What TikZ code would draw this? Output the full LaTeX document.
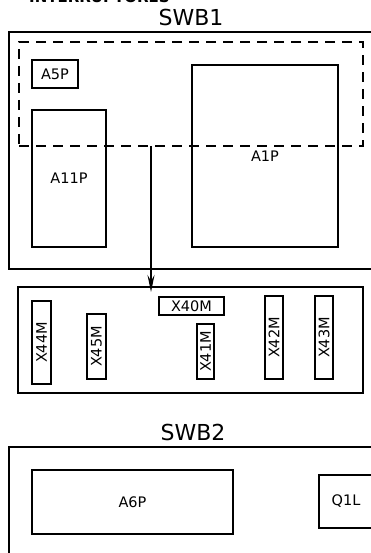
\documentclass[tikz,border=0pt]{standalone}
\usepackage{fontspec}
\setmainfont{DejaVu Sans}
\usepackage{tikz}
\usetikzlibrary{arrows.meta, positioning}

\begin{document}
\begin{tikzpicture}[
    x=1pt, y=-1pt,
    tablero/.style={draw, rectangle, line width=2pt, inner sep=0pt},
    equipo/.style={draw, rectangle, line width=1.8pt, inner sep=0pt, font=\fontsize{14.5}{15}\selectfont},
    borne/.style={equipo, rotate=90},
    zona/.style={draw, rectangle, dash pattern=on 10pt off 7pt, line width=1.4pt},
    titulo/.style={inner sep=0pt, font=\fontsize{22}{23}\selectfont},
    flecha/.style={line width=1.8pt, -{Stealth[length=17pt, width=7pt, inset=6pt]}},
]
    \useasboundingbox (0,0) rectangle (371,553);

    % cabecera cortada
    \node[anchor=base west, inner sep=0pt, font=\fontsize{15}{16}\selectfont\bfseries] (cabecera) at (29,2.5) {INTERRUPTORES};

    % tablero SWB1
    \node[tablero, minimum width=368pt, minimum height=237pt] (swb1) at (193,150.5) {};
    \node[titulo, above=5pt of swb1, xshift=-2pt] (tswb1) {SWB1};
    \node[equipo, minimum width=46pt, minimum height=28pt] (a5p) at (55,74) {A5P};
    \node[equipo, minimum width=74pt, minimum height=137pt] (a11p) at (69,178.5) {A11P};
    \node[equipo, minimum width=146pt, minimum height=182pt] (a1p) at (265,156) {A1P};
    \node[zona, minimum width=344pt, minimum height=104pt] (zona1) at (191,94) {};

    % caja de bornes
    \node[tablero, minimum width=345pt, minimum height=106pt] (bornes) at (190.5,340) {};
    \node[borne, minimum width=83pt, minimum height=19pt] (x44m) at (41.5,342.5) {X44M};
    \node[borne, minimum width=65pt, minimum height=19pt] (x45m) at (96.5,346.5) {X45M};
    \node[equipo, minimum width=65pt, minimum height=18pt] (x40m) at (191.5,306) {X40M};
    \node[borne, minimum width=55pt, minimum height=17pt] (x41m) at (205.5,351.5) {X41M};
    \node[borne, minimum width=83pt, minimum height=18pt] (x42m) at (274,337.5) {X42M};
    \node[borne, minimum width=83pt, minimum height=18pt] (x43m) at (324,337.5) {X43M};

    \coordinate (salida) at (151,146);
    \draw[flecha, shorten >=-6pt] (salida) -- (salida |- bornes.north);

    % tablero SWB2
    \node[tablero, minimum width=368pt, minimum height=123pt] (swb2) at (193,508.5) {};
    \node[titulo, above=5pt of swb2] (tswb2) {SWB2};
    \node[equipo, minimum width=201pt, minimum height=64pt] (a6p) at (132.5,502) {A6P};
    \node[equipo, minimum width=54pt, minimum height=53pt] (q1l) at (346,501.5) {Q1L};
\end{tikzpicture}
\end{document}
